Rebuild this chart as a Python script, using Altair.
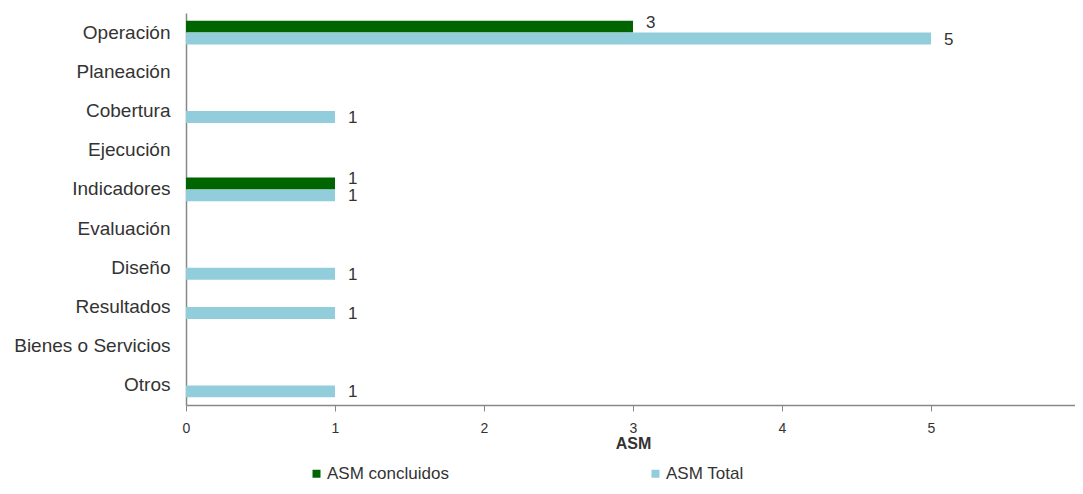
import altair as alt
import pandas as pd

categories = ["Operación", "Planeación", "Cobertura", "Ejecución", "Indicadores",
              "Evaluación", "Diseño", "Resultados", "Bienes o Servicios", "Otros"]
series = ["ASM concluidos", "ASM Total"]
concluidos = [3, 0, 0, 0, 1, 0, 0, 0, 0, 0]
total = [5, 0, 1, 0, 1, 0, 1, 1, 0, 1]
colors = ["#006400", "#92CDDC"]

rows = []
for c, v1, v2 in zip(categories, concluidos, total):
    rows.append({"cat": c, "serie": series[0], "val": v1})
    rows.append({"cat": c, "serie": series[1], "val": v2})
df = pd.DataFrame(rows)

FONT = "Liberation Sans"
TXT = "#333333"

y_enc = alt.Y("cat:N", sort=categories, title=None,
              scale=alt.Scale(paddingInner=0.39, paddingOuter=0.195),
              axis=alt.Axis(ticks=False, labelFontSize=19, labelColor=TXT, labelFont=FONT,
                            labelPadding=16, domainColor="#888888", domainWidth=1.5,
                            labelLimit=300))
x_enc = alt.X("val:Q", title="ASM",
              scale=alt.Scale(domain=[0, 6], nice=False, range=[0, 894]),
              axis=alt.Axis(values=[0, 1, 2, 3, 4, 5, 6], format="d", grid=False,
                            tickSize=6, tickColor="#888888", domainColor="#888888",
                            domainWidth=1.5, labelFontSize=14, labelColor=TXT, labelFont=FONT,
                            labelPadding=10, labelFlush=False, titleFont=FONT,
                            titleFontSize=16, titleFontWeight="bold", titleColor=TXT,
                            titlePadding=0))

base = alt.Chart(df)

bars = base.mark_bar().encode(
    y=y_enc,
    yOffset=alt.YOffset("serie:N", sort=series, scale=alt.Scale(paddingInner=0, paddingOuter=0)),
    x=x_enc,
    color=alt.Color("serie:N", sort=series,
                    scale=alt.Scale(domain=series, range=colors),
                    legend=alt.Legend(title=None, orient="none", direction="horizontal",
                                      legendX=122, legendY=452, symbolType="square",
                                      symbolSize=64, symbolStrokeWidth=0,
                                      labelFontSize=17, labelColor=TXT, labelFont=FONT,
                                      columnPadding=198, labelOffset=2)),
)

lab_conc = base.transform_filter(
    (alt.datum.val > 0) & (alt.datum.serie == series[0])
).mark_text(align="left", dx=13, dy=-4, fontSize=17, color=TXT, font=FONT).encode(
    y=alt.Y("cat:N", sort=categories),
    yOffset=alt.YOffset("serie:N", sort=series),
    x="val:Q",
    text="val:Q",
)
lab_tot = base.transform_filter(
    (alt.datum.val > 0) & (alt.datum.serie == series[1])
).mark_text(align="left", dx=13, dy=1, fontSize=17, color=TXT, font=FONT).encode(
    y=alt.Y("cat:N", sort=categories),
    yOffset=alt.YOffset("serie:N", sort=series),
    x="val:Q",
    text="val:Q",
)

chart = (bars + lab_conc + lab_tot).properties(
    width=889, height=392,
    autosize=alt.AutoSizeParams(type="none"),
    padding={"left": 178, "top": 5, "right": 0, "bottom": 77},
).configure(font=FONT).configure_view(stroke=None)

chart.save("out.html", embed_options={"renderer": "svg", "actions": False})
